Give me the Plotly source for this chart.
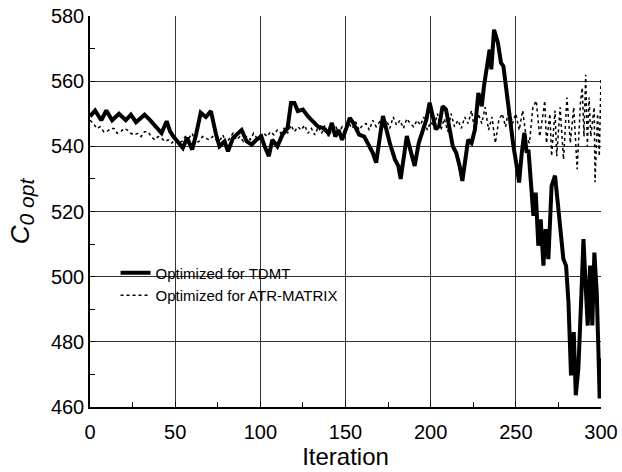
import plotly.graph_objects as go

# ---- data ----
tdmt_x = [0, 3, 6.6, 9.6, 13, 17, 21, 24, 27, 32, 35, 39, 42, 45, 47, 49, 51.5, 54.5, 57, 60,
          62, 65, 68, 71, 74, 76, 79, 81, 84, 89, 92, 95, 97.6, 100.6, 102.5, 105, 107, 110, 113, 116,
          118, 120, 122, 125, 128, 131, 134, 137, 140, 142, 144, 146, 148, 150.5, 152.5, 154.5, 156.5, 158, 161, 164,
          166, 168, 170, 172, 174, 176, 179, 181, 182.4, 184.3, 186, 188, 190.6, 193, 195.5, 197.5, 199.4, 201, 203, 205,
          207, 209, 211, 213, 215, 217, 218.6, 220.3, 222, 224, 226, 228, 230, 231.3, 232.7, 234.6, 235.6, 237.2, 239.5, 241.3,
          242.7, 244.6, 246.6, 248.6, 250.5, 251.9, 253.5, 255, 256.4, 257.4, 259, 260.3, 261.7, 263.2, 264.6, 266.2, 267.5, 269.1,
          271, 273, 274.6, 276.5, 277.9, 279.5, 280.9, 282.4, 284, 285.2, 286.7, 288.3, 289.7, 291, 292.2, 293.6, 294.9, 296.1,
          297.5, 298.5, 299.2, 300]
tdmt_y = [549.2, 551, 548, 551, 548, 550, 548, 549.7, 547.4, 549.7, 548.2, 545.6, 544.1, 547.7, 544.6, 543, 541.5, 539.5, 542.6, 539,
          543, 550.3, 549, 550.8, 543.6, 540, 541.5, 538.5, 542.6, 545, 541.5, 540.5, 542, 543, 540, 537, 542, 540, 543.6, 545.6,
          553.3, 553.3, 550.8, 551.3, 549.2, 547.7, 546, 545.6, 544, 547.2, 543, 545, 542, 545.6, 548.7, 547.2, 545, 543.6, 543, 540,
          538, 535, 542, 549.3, 545.2, 541, 536, 534, 530, 538, 543.2, 539, 534, 541, 545.2, 548.3, 553.4, 549.3, 545.2, 546.2,
          552.3, 551.3, 546.2, 540, 538, 534, 529.4, 537, 542, 541, 545.2, 556.4, 552.3, 558.5, 563.6, 569.7, 563.6, 575.8, 571.7, 565.6,
          564.6, 556.4, 548.3, 540, 534, 528.9, 538, 544.2, 538, 539, 527.9, 518.7, 525.8, 509.5, 517.6, 503.4, 514.6, 505.4,
          527.9, 531, 522.8, 512.6, 505.4, 503.4, 492.1, 469.7, 483, 463.6, 471.7, 492.1, 511.5, 497.2, 485, 503.4, 485, 507.4,
          495.2, 476.8, 462.6, 475]

atr_x = [0, 2, 4, 6, 8, 10, 12, 14, 16, 18, 20, 22, 24, 26, 28, 30, 32, 34, 36, 38,
         40, 42, 44, 46, 48, 50, 52, 54, 56, 58, 60, 62, 64, 66, 68, 70, 72, 74, 76, 78,
         80, 82, 84, 86, 88, 90, 92, 94, 96, 98, 100, 102, 104, 106, 108, 110, 112, 114, 116, 118,
         120, 122, 124, 126, 128, 130, 132, 134, 136, 138, 140, 142, 144, 146, 148, 150, 152, 154, 156, 158,
         160, 162, 164, 166, 168, 170, 172, 174, 176, 178, 180, 182, 184, 186, 188, 190, 192, 194, 196, 198,
         200, 202, 204, 206, 208, 210, 212, 214, 216, 218, 220, 222, 224, 226, 228, 230, 232, 234, 236, 238,
         240, 242, 244, 246, 248, 250, 252, 254, 256, 258, 260, 262, 264, 266, 267, 268, 270, 271, 273, 274,
         276, 278, 280, 282, 284, 286, 288, 289, 290, 291, 292, 293, 294, 296, 296.5, 298, 299, 300]
atr_y = [548, 547, 545.5, 546, 544.5, 544.5, 545.5, 545.5, 544, 544.5, 545.5, 545, 544, 543.5, 544, 543, 544.5, 544.5, 543, 542,
         543, 542.5, 541.5, 542, 541, 542, 541, 541.5, 543, 542.5, 544, 541, 541.5, 543, 542.5, 542, 543, 542, 541.5, 543.5,
         541, 542.5, 544, 542, 543, 541.5, 543, 542, 544, 542.5, 543.5, 544, 543, 544.5, 543.5, 545, 544, 545.5, 544, 546.5,
         544.5, 546, 545, 546.5, 544, 545.5, 543.5, 546, 544, 546.5, 543, 545, 546.5, 544, 546, 544.5, 547, 545.5, 547.5, 545,
         546.5, 547, 545, 548, 546, 547.5, 546, 548, 545.5, 549, 546.5, 548, 545.5, 548.5, 547, 546, 548, 546.5, 549, 545,
         547.5, 546, 550, 545, 548.5, 544.5, 550, 546, 548, 545.5, 549, 547, 551, 544, 550, 547, 552, 545, 549, 541,
         548, 550, 546, 552, 547, 550, 545, 551, 543, 541, 552, 554, 543, 550, 554, 541, 550, 537, 551, 537,
         552, 536, 555, 541, 552, 533, 554, 558, 543, 562, 540, 555, 543, 552, 529, 550, 537, 561]

x_ticks = [0, 50, 100, 150, 200, 250, 300]
y_ticks = [460, 480, 500, 520, 540, 560, 580]

FONT = "Liberation Sans, Arial"

fig = go.Figure()
fig.add_trace(go.Scatter(x=tdmt_x, y=tdmt_y, mode="lines", name="Optimized for TDMT",
                         line=dict(color="black", width=4)))
fig.add_trace(go.Scatter(x=atr_x, y=atr_y, mode="lines", name="Optimized for ATR-MATRIX",
                         line=dict(color="black", width=1.5, dash="dot")))

fig.update_layout(
    width=622, height=472,
    margin=dict(l=90, r=21, t=16, b=65),
    paper_bgcolor="white", plot_bgcolor="white",
    font=dict(family=FONT, color="black"),
    showlegend=True,
    legend=dict(x=0.05, y=0.385, xanchor="left", yanchor="top",
                bgcolor="rgba(0,0,0,0)", font=dict(size=15, family=FONT),
                itemwidth=30),
    xaxis=dict(range=[0, 300], tickvals=x_ticks, ticktext=[str(v) for v in x_ticks],
               automargin=False,
               showgrid=True, gridcolor="#333", gridwidth=1,
               showline=True, linecolor="black", linewidth=1.5, mirror=False,
               ticks="inside", ticklen=5, tickcolor="black", ticklabelstandoff=6,
               minor=dict(dtick=25, ticks="inside", ticklen=5, tickcolor="black", showgrid=False),
               tickfont=dict(size=20, family=FONT), zeroline=False,
               title=dict(text="Iteration", font=dict(size=24, family=FONT), standoff=4)),
    yaxis=dict(range=[460, 580], tickvals=y_ticks, ticktext=[str(v) for v in y_ticks],
               automargin=False,
               showgrid=True, gridcolor="#333", gridwidth=1,
               showline=True, linecolor="black", linewidth=1.5, mirror=False,
               ticks="inside", ticklen=5, tickcolor="black",
               minor=dict(dtick=10, ticks="inside", ticklen=5, tickcolor="black", showgrid=False),
               tickfont=dict(size=20, family=FONT), zeroline=False,
               title=dict(text="<i>C<sub><span style='font-size:21px'>0 opt</span></sub></i>",
                          font=dict(size=26, family=FONT), standoff=14)),
)

fig.write_html("out.html")
